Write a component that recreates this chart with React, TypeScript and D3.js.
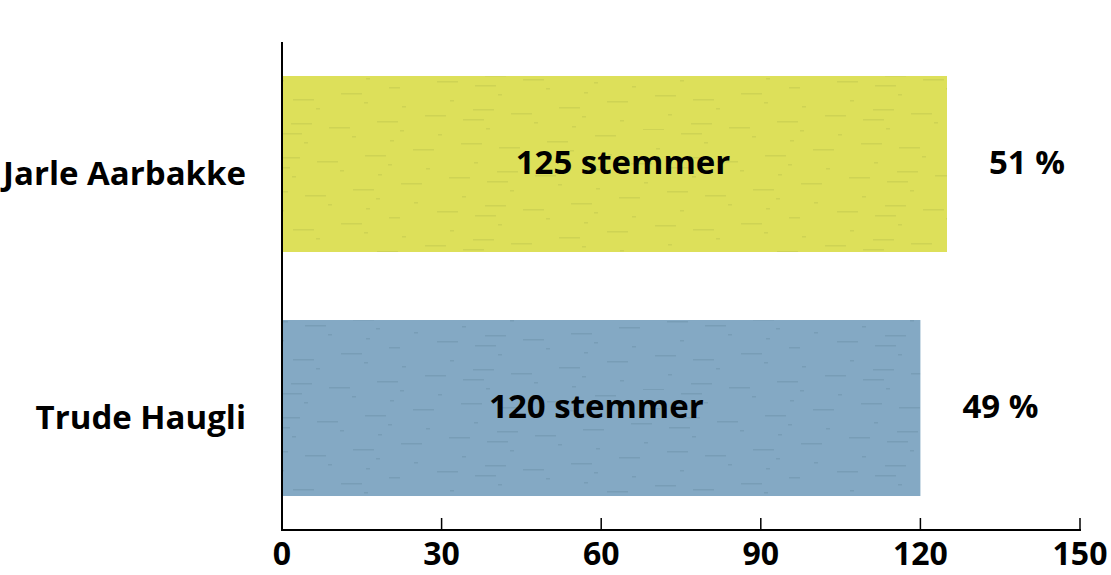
import React from "react";
import * as d3 from "d3";

const candidates = ["Jarle Aarbakke", "Trude Haugli"];
const votes = [125, 120];
const percents = ["51 %", "49 %"];
const colors = ["#dde05a", "#84a9c4"];
const streakColors = ["#c5c950", "#7094ae"];
const xTicks = [0, 30, 60, 90, 120, 150];

const W = 1111;
const H = 575;
const FONT = "'Open Sans', sans-serif";

// deterministic streak layout for the paper-like texture
const streaks: [number, number, number][] = [];
for (let i = 0; i < 80; i++) {
  const x = (i * 97) % 400;
  const y = (i * 41) % 130;
  const w = 4 + ((i * 17) % 34);
  streaks.push([x, y, w]);
}

export default function App() {
  const x = d3.scaleLinear().domain([0, 150]).range([282, 1080]);
  const y = d3
    .scaleBand()
    .domain(candidates)
    .range([42, 530])
    .paddingInner(0.2787)
    .paddingOuter(0.1393);

  return (
    <svg width={W} height={H} style={{ display: "block", position: "absolute", left: 0, top: 0 }}>
      <defs>
        {colors.map((c, i) => (
          <pattern key={i} id={`tex${i}`} patternUnits="userSpaceOnUse" width={400} height={130}>
            <rect width={400} height={130} fill={c} />
            {streaks.map(([sx, sy, sw], j) => (
              <rect key={j} x={sx} y={sy} width={sw} height={1.5} fill={streakColors[i]} opacity={0.6} />
            ))}
          </pattern>
        ))}
      </defs>
      {candidates.map((c, i) => {
        const by = y(c)!;
        const bh = y.bandwidth();
        const cy = by + bh / 2;
        return (
          <g key={c}>
            <rect x={x(0)} y={by} width={x(votes[i]) - x(0)} height={bh} fill={`url(#tex${i})`} />
            <text x={246} y={cy + 21} textAnchor="end" fontFamily={FONT} fontWeight={700} fontSize={33} fill="#000">
              {c}
            </text>
            <text x={x(votes[i]) - 324} y={cy + 10} textAnchor="middle" fontFamily={FONT} fontWeight={700} fontSize={33} fill="#000">
              {`${votes[i]} stemmer`}
            </text>
            <text x={x(votes[i]) + 80} y={cy + 10} textAnchor="middle" fontFamily={FONT} fontWeight={700} fontSize={33} fill="#000">
              {percents[i]}
            </text>
          </g>
        );
      })}
      <line x1={x(0)} x2={x(0)} y1={42} y2={531} stroke="#000" strokeWidth={2} />
      <line x1={x(0) - 1} x2={x(150) + 1} y1={530} y2={530} stroke="#000" strokeWidth={2} />
      {xTicks.map((t) => (
        <g key={t}>
          {t > 0 && <line x1={x(t)} x2={x(t)} y1={530} y2={518} stroke="#000" strokeWidth={1.5} />}
          <text x={x(t)} y={565} textAnchor="middle" fontFamily={FONT} fontWeight={700} fontSize={32} fill="#000">
            {t}
          </text>
        </g>
      ))}
    </svg>
  );
}
